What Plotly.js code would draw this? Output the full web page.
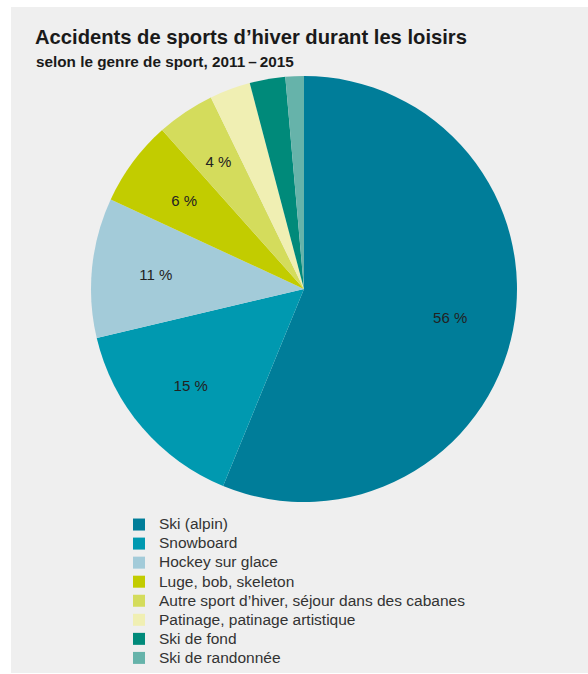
<!DOCTYPE html>
<html>
<head>
<meta charset="utf-8">
<script src="https://cdn.plot.ly/plotly-3.0.1.min.js"></script>
<style>
html,body{margin:0;padding:0;background:#ffffff;width:588px;height:674px;overflow:hidden;}
#chart{position:absolute;left:11px;top:7px;width:577px;height:666px;}
</style>
</head>
<body>
<div id="chart"></div>
<script>
const categories = [
  "Ski (alpin)",
  "Snowboard",
  "Hockey sur glace",
  "Luge, bob, skeleton",
  "Autre sport d’hiver, séjour dans des cabanes",
  "Patinage, patinage artistique",
  "Ski de fond",
  "Ski de randonnée"
];
const shares = [56.2, 15.1, 10.6, 6.5, 4.4, 3.1, 2.7, 1.4];
const sliceLabels = ["56 %", "15 %", "11 %", "6 %", "4 %", "", "", ""];
const colors = ["#007d99", "#0099b0", "#a3cbd9", "#c2cc00", "#d4dc5c", "#f0efb3", "#008a7a", "#66b3aa"];

const FONT = "Liberation Sans, Arial, Helvetica, sans-serif";
const W = 577, H = 666;
const cx = 293, cy = 282, R = 213;   // pie centre / radius in px inside the plot div
const Rt = 175;                      // radius of the transparent label ring

function dom(r) {
  return {x: [(cx - r) / W, (cx + r) / W], y: [(H - cy - r) / H, (H - cy + r) / H]};
}

const pieTrace = {
  type: "pie",
  labels: categories.map(c => '<span style="font-size:15.5px">' + c + '</span>'),
  values: shares,
  textinfo: "none",
  sort: false,
  direction: "clockwise",
  rotation: 0,
  marker: {colors: colors, line: {width: 0}},
  hoverinfo: "label+percent",
  domain: dom(R)
};

const labelTrace = {
  type: "pie",
  labels: categories,
  values: shares,
  text: sliceLabels,
  textinfo: "text",
  textposition: "inside",
  insidetextorientation: "horizontal",
  insidetextfont: {family: FONT, size: 15, color: "#222222"},
  sort: false,
  direction: "clockwise",
  rotation: 0,
  hole: 0.703,
  showlegend: false,
  marker: {colors: categories.map(() => "rgba(0,0,0,0)"), line: {width: 0}},
  hoverinfo: "skip",
  domain: dom(Rt)
};

const layout = {
  width: W,
  height: H,
  margin: {l: 0, r: 0, t: 0, b: 0, autoexpand: false},
  paper_bgcolor: "#efefef",
  font: {family: FONT, color: "#333333"},
  title: {
    text: "<b>Accidents de sports d’hiver durant les loisirs</b>",
    font: {family: FONT, size: 20.2, color: "#1a1a1a"},
    x: 24 / W, xanchor: "left", xref: "paper",
    y: 1 - 23 / H, yanchor: "top", yref: "container"
  },
  annotations: [{
    text: "<b>selon le genre de sport, 2011\u2009–\u20092015</b>",
    xref: "paper", yref: "paper",
    x: 23 / W, xanchor: "left",
    y: 1 - 54 / H, yanchor: "middle",
    showarrow: false,
    font: {family: FONT, size: 15.3, color: "#1a1a1a"}
  }],
  showlegend: true,
  legend: {
    x: 108 / W, xanchor: "left",
    y: 1 - 503 / H, yanchor: "top",
    bgcolor: "rgba(0,0,0,0)",
    font: {family: FONT, size: 12.35, color: "#333333"},
    traceorder: "normal"
  }
};

Plotly.newPlot("chart", [pieTrace, labelTrace], layout, {displayModeBar: false, staticPlot: true});
</script>
</body>
</html>
